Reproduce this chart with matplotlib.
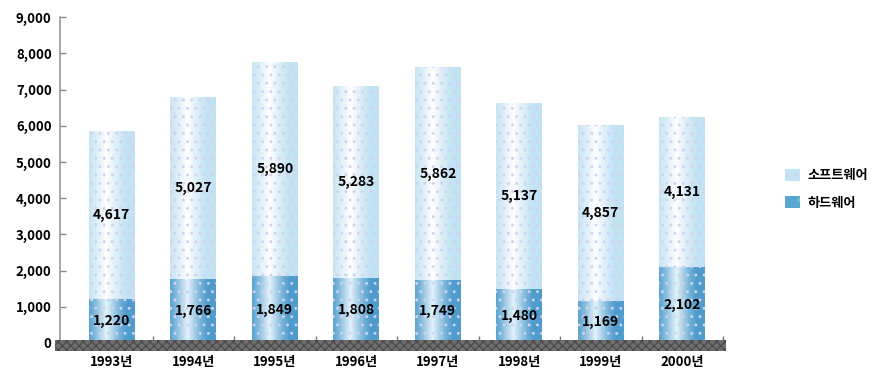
import matplotlib
matplotlib.use("Agg")
import matplotlib.pyplot as plt
import numpy as np
from matplotlib.colors import to_rgb
from matplotlib.patches import Rectangle, Patch

plt.rcParams["font.family"] = ["Noto Sans CJK KR", "DejaVu Sans"]
plt.rcParams["hatch.linewidth"] = 0.9

years = ["1993년", "1994년", "1995년", "1996년", "1997년", "1998년", "1999년", "2000년"]
hardware = [1220, 1766, 1849, 1808, 1749, 1480, 1169, 2102]
software = [4617, 5027, 5890, 5283, 5862, 5137, 4857, 4131]
yticks = list(range(0, 9001, 1000))

SW_EDGE = "#c2e3f3"
SW_MID = "#ffffff"
HW_EDGE = "#4f9ccd"
HW_MID = "#e4f4fa"
DOT = "#d3d1f0"


def cylinder_fill(ax, bar, edge, mid, peak=0.38):
    # horizontal shading so each bar reads like a cylinder
    t = np.linspace(0, 1, 120)
    w = np.clip(1 - np.abs(t - peak) / 0.45, 0, 1) ** 1.3
    e, m = np.array(to_rgb(edge)), np.array(to_rgb(mid))
    img = (e[None, :] * (1 - w[:, None]) + m[None, :] * w[:, None])[None, :, :]
    x0, y0 = bar.get_x(), bar.get_y()
    ax.imshow(img, extent=(x0, x0 + bar.get_width(), y0, y0 + bar.get_height()),
              aspect="auto", interpolation="bilinear", zorder=1)


fig = plt.figure(figsize=(8.84, 3.78), dpi=100)
ax = fig.add_axes([0.0679, 0.0926, 0.750, 0.862])

x = np.arange(len(years))
w = 0.56
hw_bars = ax.bar(x, hardware, w, color="none", edgecolor=DOT, linewidth=0, hatch="..", zorder=2)
sw_bars = ax.bar(x, software, w, bottom=hardware, color="none", edgecolor=DOT,
                 linewidth=0, hatch="..", zorder=2)
for b in hw_bars:
    cylinder_fill(ax, b, HW_EDGE, HW_MID)
for b in sw_bars:
    cylinder_fill(ax, b, SW_EDGE, SW_MID)

for i in range(len(years)):
    ax.text(x[i], hardware[i] / 2, f"{hardware[i]:,}", ha="center", va="center",
            fontsize=10, fontweight="black", color="black", zorder=4)
    ax.text(x[i], hardware[i] + software[i] / 2, f"{software[i]:,}", ha="center",
            va="center", fontsize=10, fontweight="black", color="black", zorder=4)

ax.set_xlim(-0.635, 7.5)
ax.set_ylim(0, 9000)
ax.set_yticks(yticks)
ax.set_yticklabels([f"{v:,}" for v in yticks], fontsize=9.5, fontweight="black")
ax.set_xticks(x)
ax.set_xticklabels(years, fontsize=9.5, fontweight="black")
ax.set_xticks(np.arange(0.5, 8, 1), minor=True)
ax.tick_params(axis="x", which="major", length=0, pad=9)
ax.tick_params(axis="x", which="minor", direction="in", length=5, color="#777777", width=1)
ax.tick_params(axis="y", direction="in", length=4, color="#888888", width=1, pad=6)

for s in ("top", "right", "bottom"):
    ax.spines[s].set_visible(False)
ax.spines["left"].set_color("#999999")
ax.spines["left"].set_linewidth(1.2)

# dark hatched floor band along the category axis
ax.add_patch(Rectangle((-0.008, -0.025), 1.013, 0.034, transform=ax.transAxes,
                       facecolor="#6e6e6e", edgecolor="#4a4a4a", hatch="xxxx",
                       linewidth=0, clip_on=False, zorder=3))

handles = [Patch(facecolor=SW_EDGE, edgecolor=DOT, hatch="..", linewidth=0, label="소프트웨어"),
           Patch(facecolor="#5aa6d2", edgecolor="#7fc4c8", hatch=".", linewidth=0, label="하드웨어")]
fig.legend(handles=handles, loc="center left", bbox_to_anchor=(0.875, 0.5), frameon=False,
           prop={"size": 9.5, "weight": "black"}, handlelength=1.1, handleheight=1.1,
           handletextpad=0.6, labelspacing=1.0)

fig.savefig("out.png", dpi=100)
